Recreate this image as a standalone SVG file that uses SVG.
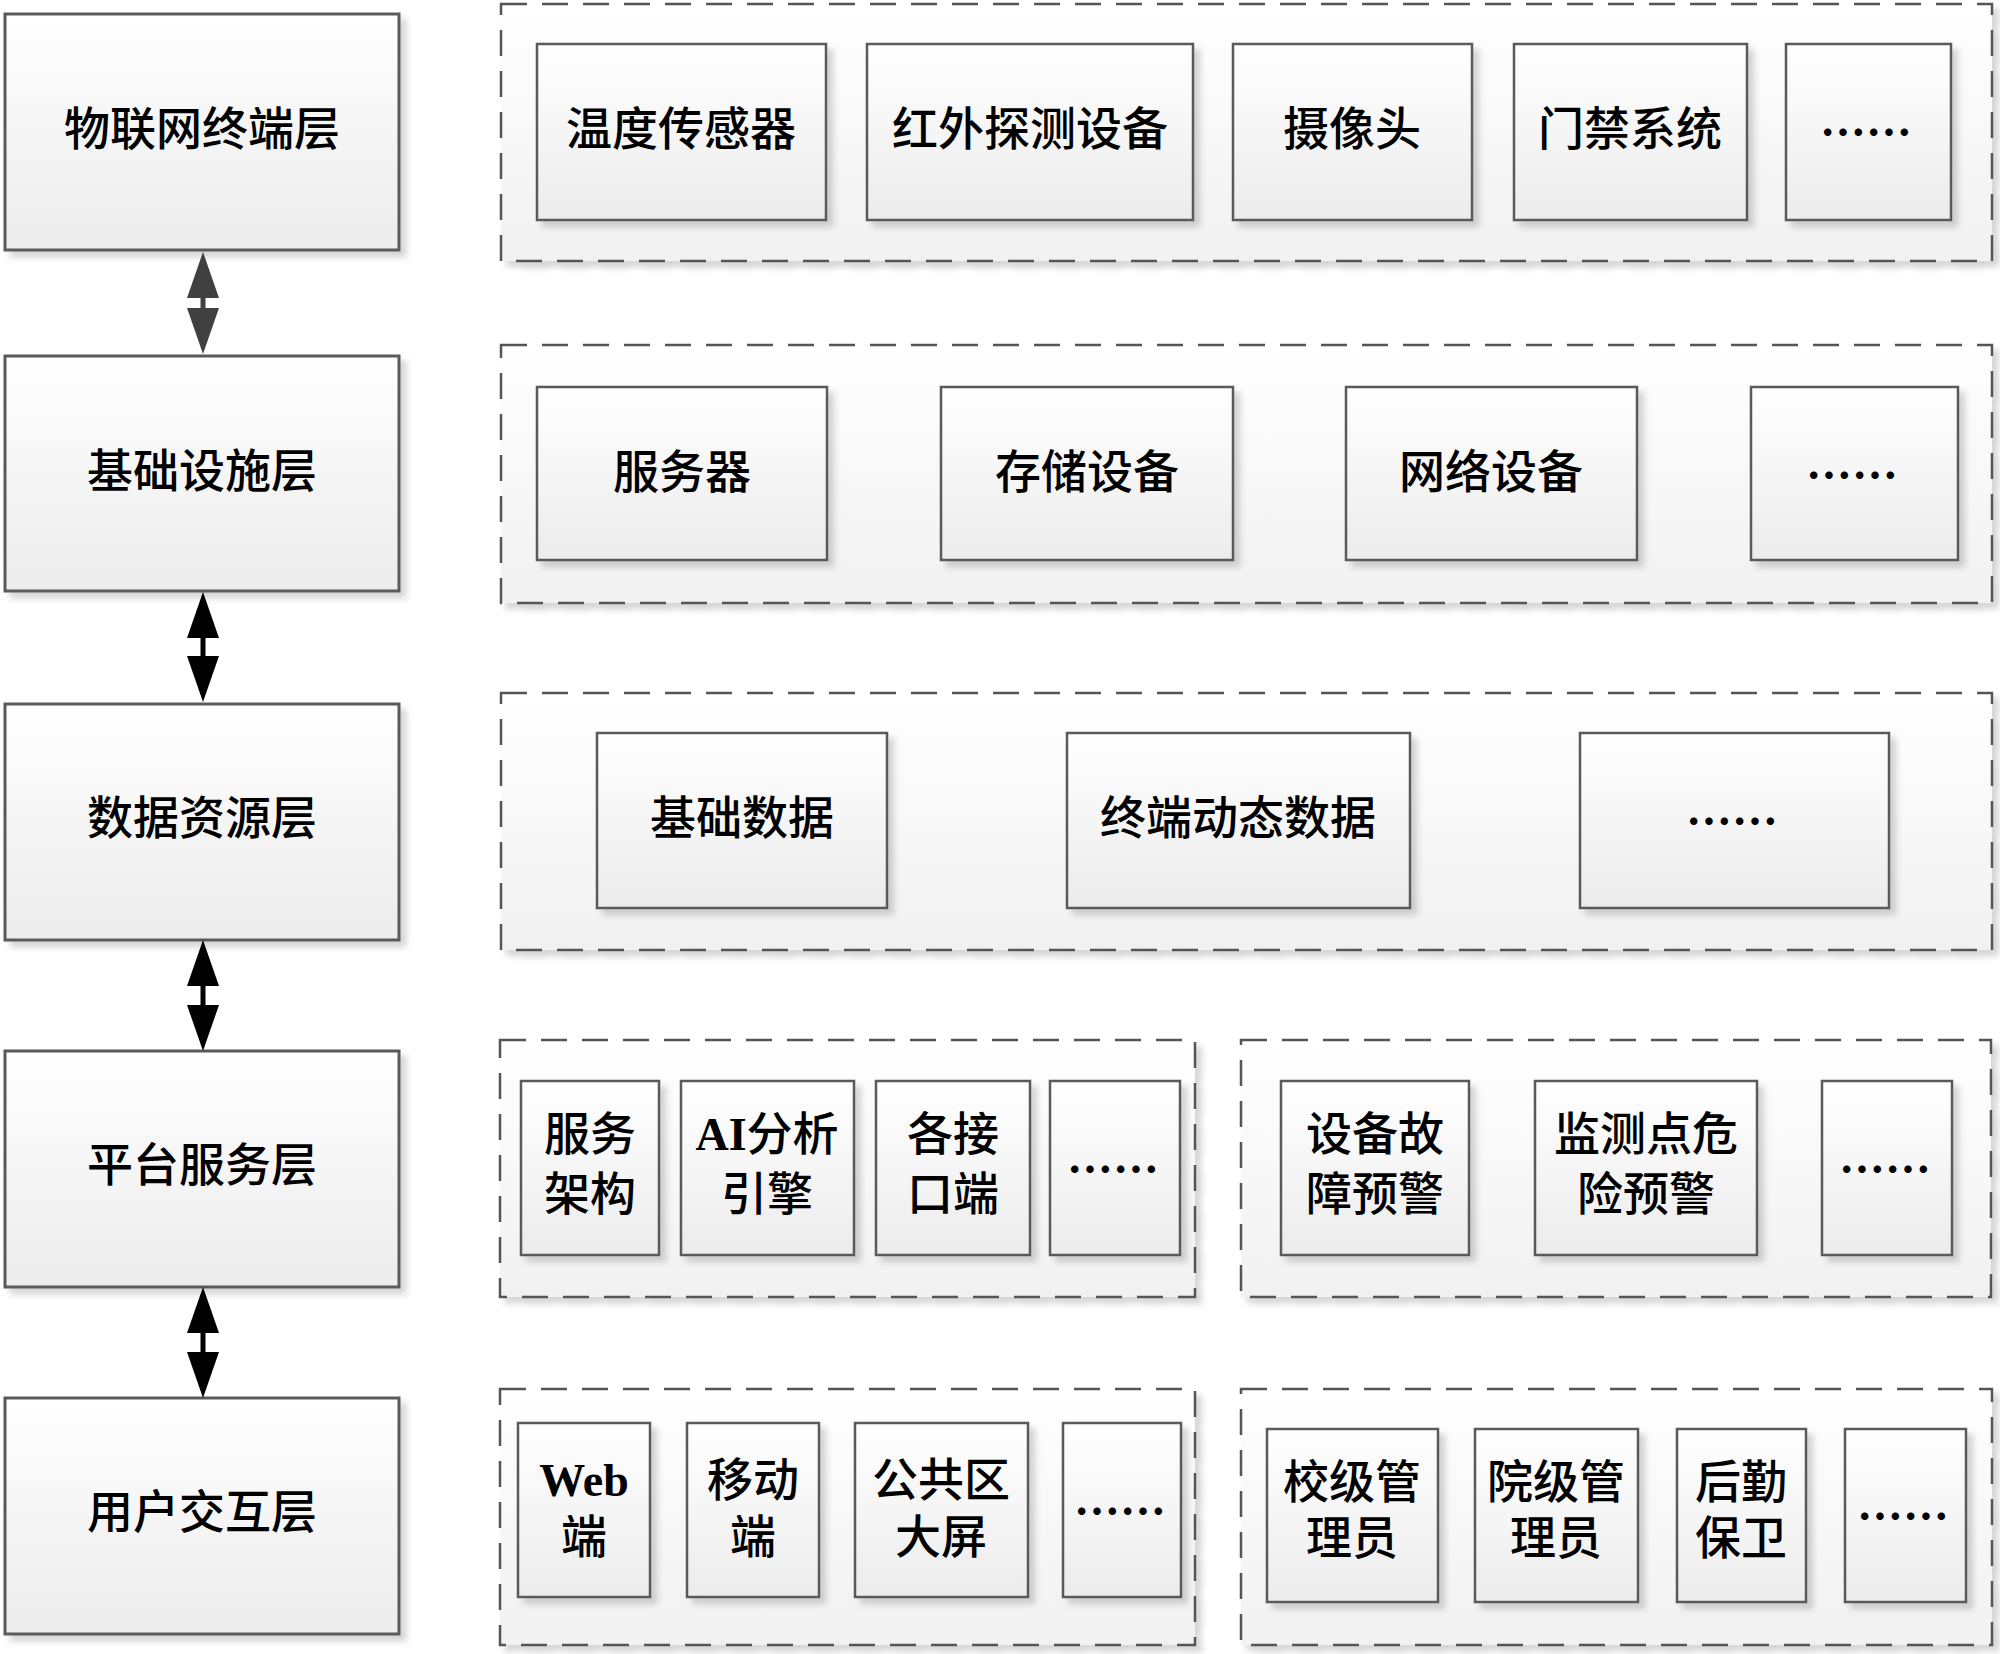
<svg xmlns="http://www.w3.org/2000/svg" width="2000" height="1654" viewBox="0 0 2000 1654">
<defs>
<linearGradient id="gBox" x1="0" y1="0" x2="0" y2="1">
<stop offset="0" stop-color="#ffffff"/>
<stop offset="1" stop-color="#ececec"/>
</linearGradient>
<linearGradient id="gCont" x1="0" y1="0" x2="0" y2="1">
<stop offset="0" stop-color="#ffffff"/>
<stop offset="1" stop-color="#f1f1f1"/>
</linearGradient>
<filter id="sh" x="-10%" y="-10%" width="125%" height="130%">
<feDropShadow dx="6" dy="6" stdDeviation="3" flood-color="#000000" flood-opacity="0.16"/>
</filter>
<marker id="ah" markerUnits="userSpaceOnUse" markerWidth="46" markerHeight="32" refX="0" refY="16" orient="auto-start-reverse" viewBox="0 0 46 32">
<path d="M0,0 L46,16 L0,32 Z" fill="#000000"/>
</marker>
<marker id="ahg" markerUnits="userSpaceOnUse" markerWidth="46" markerHeight="32" refX="0" refY="16" orient="auto-start-reverse" viewBox="0 0 46 32">
<path d="M0,0 L46,16 L0,32 Z" fill="#404040"/>
</marker>
</defs>
<style>
.layer{fill:url(#gBox);stroke:#5a5a5a;stroke-width:3;filter:url(#sh)}
.box{fill:url(#gBox);stroke:#5a5a5a;stroke-width:2.5;filter:url(#sh)}
.cont{fill:url(#gCont);stroke:#555555;stroke-width:2.5;stroke-dasharray:26 15;filter:url(#sh)}
text{font-family:"Liberation Serif","Noto Sans CJK SC",serif;font-size:46px;font-weight:500;fill:#000;text-anchor:middle;dominant-baseline:central}
.lat{font-weight:bold}
.dots{font-family:"Noto Sans CJK SC",sans-serif;font-weight:bold}
.conn{stroke-width:5;fill:none}
</style>
<rect width="2000" height="1654" fill="#ffffff"/>

<!-- Containers -->
<g id="containers">
<rect id="c1" class="cont" x="501" y="4" width="1491" height="257"/>
<rect id="c2" class="cont" x="501" y="345" width="1491" height="258"/>
<rect id="c3" class="cont" x="501" y="693" width="1491" height="257"/>
<rect id="c4a" class="cont" x="500" y="1040" width="695" height="257"/>
<rect id="c4b" class="cont" x="1241" y="1040" width="750" height="257"/>
<rect id="c5a" class="cont" x="500" y="1389" width="695" height="256"/>
<rect id="c5b" class="cont" x="1241" y="1389" width="751" height="256"/>
</g>

<!-- Layer nodes -->
<g id="L1"><rect class="layer" x="5" y="14" width="394" height="236"/><text x="202" y="129">物联网终端层</text></g>
<g id="L2"><rect class="layer" x="5" y="356" width="394" height="235"/><text x="202" y="471">基础设施层</text></g>
<g id="L3"><rect class="layer" x="5" y="704" width="394" height="236"/><text x="202" y="818">数据资源层</text></g>
<g id="L4"><rect class="layer" x="5" y="1051" width="394" height="236"/><text x="202" y="1165">平台服务层</text></g>
<g id="L5"><rect class="layer" x="5" y="1398" width="394" height="236"/><text x="202" y="1512">用户交互层</text></g>

<!-- Row 1 -->
<g id="n1a"><rect class="box" x="537" y="44" width="289" height="176"/><text x="681" y="129">温度传感器</text></g>
<g id="n1b"><rect class="box" x="867" y="44" width="326" height="176"/><text x="1030" y="129">红外探测设备</text></g>
<g id="n1c"><rect class="box" x="1233" y="44" width="239" height="176"/><text x="1352" y="129">摄像头</text></g>
<g id="n1d"><rect class="box" x="1514" y="44" width="233" height="176"/><text x="1630" y="129">门禁系统</text></g>
<g id="n1e"><rect class="box" x="1786" y="44" width="165" height="176"/><text class="dots" x="1866" y="129">……</text></g>

<!-- Row 2 -->
<g id="n2a"><rect class="box" x="537" y="387" width="290" height="173"/><text x="682" y="472">服务器</text></g>
<g id="n2b"><rect class="box" x="941" y="387" width="292" height="173"/><text x="1087" y="472">存储设备</text></g>
<g id="n2c"><rect class="box" x="1346" y="387" width="291" height="173"/><text x="1491" y="472">网络设备</text></g>
<g id="n2d"><rect class="box" x="1751" y="387" width="207" height="173"/><text class="dots" x="1852" y="472">……</text></g>

<!-- Row 3 -->
<g id="n3a"><rect class="box" x="597" y="733" width="290" height="175"/><text x="742" y="818">基础数据</text></g>
<g id="n3b"><rect class="box" x="1067" y="733" width="343" height="175"/><text x="1238" y="818">终端动态数据</text></g>
<g id="n3c"><rect class="box" x="1580" y="733" width="309" height="175"/><text class="dots" x="1732" y="818">……</text></g>

<!-- Row 4 -->
<g id="n4a"><rect class="box" x="521" y="1081" width="138" height="174"/><text x="590" y="1134">服务</text><text x="590" y="1194">架构</text></g>
<g id="n4b"><rect class="box" x="681" y="1081" width="173" height="174"/><text x="767" y="1134"><tspan class="lat">AI</tspan>分析</text><text x="767" y="1194">引擎</text></g>
<g id="n4c"><rect class="box" x="876" y="1081" width="154" height="174"/><text x="953" y="1134">各接</text><text x="953" y="1194">口端</text></g>
<g id="n4d"><rect class="box" x="1050" y="1081" width="130" height="174"/><text class="dots" x="1113" y="1166">……</text></g>
<g id="n4e"><rect class="box" x="1281" y="1081" width="188" height="174"/><text x="1375" y="1134">设备故</text><text x="1375" y="1194">障预警</text></g>
<g id="n4f"><rect class="box" x="1535" y="1081" width="222" height="174"/><text x="1646" y="1134">监测点危</text><text x="1646" y="1194">险预警</text></g>
<g id="n4g"><rect class="box" x="1822" y="1081" width="130" height="174"/><text class="dots" x="1885" y="1166">……</text></g>

<!-- Row 5 -->
<g id="n5a"><rect class="box" x="518" y="1423" width="132" height="174"/><text class="lat" x="584" y="1480">Web</text><text x="584" y="1537">端</text></g>
<g id="n5b"><rect class="box" x="687" y="1423" width="132" height="174"/><text x="753" y="1480">移动</text><text x="753" y="1537">端</text></g>
<g id="n5c"><rect class="box" x="855" y="1423" width="173" height="174"/><text x="941" y="1480">公共区</text><text x="941" y="1537">大屏</text></g>
<g id="n5d"><rect class="box" x="1063" y="1423" width="118" height="174"/><text class="dots" x="1120" y="1508">……</text></g>
<g id="n5e"><rect class="box" x="1267" y="1429" width="171" height="173"/><text x="1352" y="1482">校级管</text><text x="1352" y="1538">理员</text></g>
<g id="n5f"><rect class="box" x="1475" y="1429" width="163" height="173"/><text x="1556" y="1482">院级管</text><text x="1556" y="1538">理员</text></g>
<g id="n5g"><rect class="box" x="1677" y="1429" width="129" height="173"/><text x="1741" y="1482">后勤</text><text x="1741" y="1538">保卫</text></g>
<g id="n5h"><rect class="box" x="1845" y="1429" width="121" height="173"/><text class="dots" x="1903" y="1513">……</text></g>

<!-- Connectors -->
<g id="connectors">
<line class="conn" x1="203" y1="298" x2="203" y2="308" stroke="#404040" marker-start="url(#ahg)" marker-end="url(#ahg)"/>
<line class="conn" x1="203" y1="638" x2="203" y2="656" stroke="#000000" marker-start="url(#ah)" marker-end="url(#ah)"/>
<line class="conn" x1="203" y1="986" x2="203" y2="1005" stroke="#000000" marker-start="url(#ah)" marker-end="url(#ah)"/>
<line class="conn" x1="203" y1="1333" x2="203" y2="1352" stroke="#000000" marker-start="url(#ah)" marker-end="url(#ah)"/>
</g>
</svg>
